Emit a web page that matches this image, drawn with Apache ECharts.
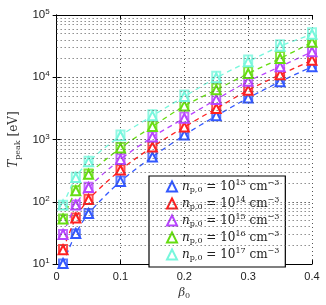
<!DOCTYPE html>
<html>
<head>
<meta charset="utf-8">
<script src="https://cdn.jsdelivr.net/npm/echarts@6/dist/echarts.min.js"></script>
<style>html,body{margin:0;padding:0;background:#fff}#c{width:326px;height:305px}</style>
</head>
<body>
<div id="c"></div>
<script>
const beta = [0.01, 0.03, 0.05, 0.1, 0.15, 0.2, 0.25, 0.3, 0.35, 0.4];
const exponents = ['13', '14', '15', '16', '17'];
const colors = ['#3358ff', '#ff2020', '#b845ff', '#66dd11', '#77f7dd'];
// triangles (with dashed fit)
const tri13 = [10.2, 31, 65, 213, 525, 1180, 2400, 4650, 8500, 14800];
const tri14 = [17, 55, 109, 324, 760, 1590, 3150, 6200, 11000, 18700];
const tri15 = [30, 89, 170, 480, 1100, 2200, 4400, 8600, 14800, 25700];
const tri16 = [53, 151, 277, 730, 1620, 3470, 6300, 11500, 20000, 36500];
const tri17 = [89, 246, 440, 1150, 2400, 4900, 9800, 17800, 31500, 49000];
// squares
const sq13 = [10.2, 31, 66, 220, 560, 1250, 2600, 5000, 9200, 16200];
const sq14 = [17.5, 56, 112, 335, 800, 1700, 3400, 6700, 12000, 20500];
const sq15 = [30.5, 91, 175, 500, 1150, 2350, 4700, 9300, 16000, 28000];
const sq16 = [54, 154, 285, 760, 1700, 3700, 6800, 12500, 22000, 40000];
const sq17 = [90, 252, 455, 1200, 2550, 5300, 10600, 19300, 34000, 53000];
const yTicks = [10, 100, 1000, 10000, 100000];
const xTicks = [0, 0.1, 0.2, 0.3, 0.4];

const triSets = [tri13, tri14, tri15, tri16, tri17];
const sqSets = [sq13, sq14, sq15, sq16, sq17];

const minorY = [];
for (let d = 10; d < 100000; d *= 10) {
  for (let k = 2; k <= 10; k++) minorY.push(d * k);
}
minorY.pop();

const serif = 'DejaVu Serif';
const sans = 'Liberation Sans';
const pairs = v => beta.map((b, i) => [b, v[i]]);

const series = [];
series.push({
  type: 'line', data: [], silent: true, z: 0,
  markLine: {
    silent: true, symbol: 'none', label: {show: false},
    lineStyle: {color: '#555', type: [1, 3], width: 1},
    data: minorY.map(v => ({yAxis: v}))
  }
});
triSets.forEach((t, k) => {
  series.push({
    name: 's' + exponents[k], type: 'scatter', data: pairs(sqSets[k]),
    symbol: 'emptyRect', symbolSize: 8,
    itemStyle: {color: colors[k], borderWidth: 1.2},
    z: 3
  });
  series.push({
    name: 'n' + exponents[k], type: 'line', data: pairs(t),
    smooth: 0.3, symbol: 'emptyTriangle', symbolSize: 9,
    lineStyle: {color: colors[k], width: 1.3, type: [5, 4]},
    itemStyle: {color: colors[k], borderWidth: 1.3},
    z: 4
  });
});

const chart = echarts.init(document.getElementById('c'), null, {renderer: 'canvas'});
chart.setOption({
  animation: false,
  backgroundColor: '#fff',
  grid: {left: 46, top: 15, width: 266, height: 252},
  xAxis: [{
    type: 'value', min: 0, max: 0.4, interval: 0.1, position: 'bottom',
    axisLine: {lineStyle: {color: '#000', width: 1}},
    axisTick: {inside: true, length: 4, lineStyle: {color: '#000'}},
    axisLabel: {color: '#222', fontFamily: sans, fontSize: 11, margin: 7,
      formatter: v => xTicks.includes(+v.toFixed(2)) ? String(+v.toFixed(2)) : ''},
    splitLine: {show: true, lineStyle: {color: '#555', type: [1, 3]}},
    name: '{b|β}{s|0}', nameLocation: 'middle', nameGap: 20,
    nameTextStyle: {rich: {
      b: {fontFamily: serif, fontStyle: 'italic', fontSize: 11.5, color: '#333', lineHeight: 14},
      s: {fontFamily: serif, fontSize: 8, color: '#333', verticalAlign: 'bottom', lineHeight: 9}
    }}
  }, {
    type: 'value', min: 0, max: 0.4, interval: 0.1, position: 'top',
    axisLine: {lineStyle: {color: '#000', width: 1}},
    axisTick: {inside: true, length: 4, lineStyle: {color: '#000'}},
    axisLabel: {show: false}, splitLine: {show: false}
  }],
  yAxis: [{
    type: 'log', logBase: 10, min: 10, max: 100000, position: 'left',
    axisLine: {show: true, lineStyle: {color: '#000', width: 1}},
    axisTick: {show: true, inside: true, length: 4, lineStyle: {color: '#000'}},
    splitLine: {show: true, lineStyle: {color: '#555', type: [1, 3]}},
    axisLabel: {
      margin: 7,
      formatter: v => '{b|10}{s|' + Math.round(Math.log10(v)) + '}',
      rich: {
        b: {fontFamily: sans, fontSize: 11.5, color: '#222', lineHeight: 14},
        s: {fontFamily: sans, fontSize: 8, color: '#222', verticalAlign: 'top', lineHeight: 9}
      }
    },
    name: '{i|T}{sub|peak}{r| [eV]}', nameLocation: 'middle', nameGap: 31, nameRotate: 90,
    nameTextStyle: {rich: {
      i: {fontFamily: serif, fontStyle: 'italic', fontSize: 12, color: '#333', lineHeight: 15},
      sub: {fontFamily: serif, fontSize: 8, color: '#333', verticalAlign: 'bottom', lineHeight: 9},
      r: {fontFamily: serif, fontSize: 12, color: '#333', lineHeight: 15}
    }}
  }, {
    type: 'log', logBase: 10, min: 10, max: 100000, position: 'right',
    axisLine: {show: true, lineStyle: {color: '#000', width: 1}},
    axisTick: {show: true, inside: true, length: 4, lineStyle: {color: '#000'}},
    axisLabel: {show: false}, splitLine: {show: false}
  }],
  legend: {
    orient: 'vertical', left: 149, top: 176,
    backgroundColor: '#fff', borderColor: '#000', borderWidth: 1.2, borderRadius: 0,
    padding: [2, 6, 4, 17], itemGap: 0, itemWidth: 10, itemHeight: 10, itemTextGap: 15,
    data: exponents.map(e => ({name: 'n' + e, icon: 'emptyTriangle'})),
    formatter: name => '{n|n}{sub|p,0}{t| = 10}{sup|' + name.slice(1) + '}{t| cm}{sup|−3}',
    textStyle: {fontSize: 12, fontFamily: serif, lineHeight: 17, rich: {
      n: {fontFamily: serif, fontStyle: 'italic', fontSize: 12, color: '#222', lineHeight: 17},
      t: {fontFamily: serif, fontSize: 12, color: '#222', lineHeight: 17},
      sub: {fontFamily: serif, fontSize: 8, color: '#222', lineHeight: 8, padding: [6, 0, 0, 0]},
      sup: {fontFamily: serif, fontSize: 8, color: '#222', lineHeight: 8, padding: [0, 0, 7, 0]}
    }}
  },
  series: series
});
</script>
</body>
</html>
